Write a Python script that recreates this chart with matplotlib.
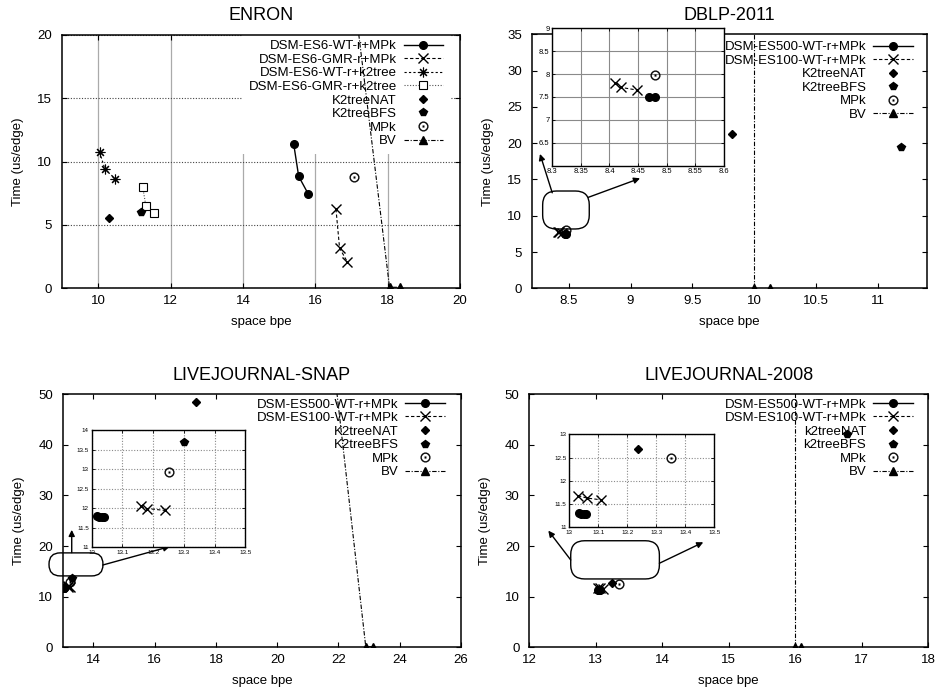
import matplotlib
matplotlib.use('Agg')
import matplotlib.pyplot as plt
from matplotlib.patches import FancyBboxPatch
from matplotlib.ticker import FormatStrFormatter

plt.rcParams['font.family'] = ['Liberation Sans', 'DejaVu Sans']
plt.rcParams['font.size'] = 9.5

# ---- ENRON ----
enron_wt_mpk_x = [15.40, 15.54, 15.80]
enron_wt_mpk_y = [11.43, 8.84, 7.47]
enron_gmr_mpk_x = [16.57, 16.67, 16.88]
enron_gmr_mpk_y = [6.26, 3.17, 2.11]
enron_wt_k2_x = [10.04, 10.19, 10.47]
enron_wt_k2_y = [10.75, 9.38, 8.66]
enron_gmr_k2_x = [11.23, 11.32, 11.53]
enron_gmr_k2_y = [8.00, 6.47, 5.94]
enron_nat_x, enron_nat_y = [10.29], [5.55]
enron_bfs_x, enron_bfs_y = [11.18], [5.99]
enron_mpk_x, enron_mpk_y = [17.06], [8.80]
enron_bv_x = [16.35, 18.05, 18.35]
enron_bv_y = [40.0, 0.08, 0.08]

# ---- DBLP-2011 ----
dblp_es500_x = [8.47, 8.48]
dblp_es500_y = [7.49, 7.49]
dblp_es100_x = [8.41, 8.42, 8.449]
dblp_es100_y = [7.80, 7.71, 7.65]
dblp_nat_x, dblp_nat_y = [9.82], [21.25]
dblp_bfs_x, dblp_bfs_y = [11.19], [19.5]
dblp_mpk_x, dblp_mpk_y = [8.48], [7.99]
dblp_bv_x = [10.0, 10.0, 10.13]
dblp_bv_y = [60.0, 0.05, 0.05]

# ---- LIVEJOURNAL-SNAP ----
snap_es500_x = [13.017, 13.025, 13.033, 13.041]
snap_es500_y = [11.79, 11.78, 11.78, 11.77]
snap_es100_x = [13.16, 13.18, 13.24]
snap_es100_y = [12.05, 11.99, 11.94]
snap_nat_x, snap_nat_y = [17.35], [48.4]
snap_bfs_x, snap_bfs_y = [13.30], [13.70]
snap_mpk_x, snap_mpk_y = [13.25], [12.92]
snap_bv_x = [21.39, 22.89, 23.14]
snap_bv_y = [80.0, 0.1, 0.1]

# ---- LIVEJOURNAL-2008 ----
lj_es500_x = [13.033, 13.042, 13.05, 13.058]
lj_es500_y = [11.30, 11.29, 11.29, 11.28]
lj_es100_x = [13.03, 13.06, 13.11]
lj_es100_y = [11.68, 11.63, 11.59]
lj_nat_x, lj_nat_y = [13.237], [12.68]
lj_bfs_x, lj_bfs_y = [16.78], [42.1]
lj_mpk_x, lj_mpk_y = [13.35], [12.48]
lj_bv_x = [16.0, 16.0, 16.09]
lj_bv_y = [80.0, 0.1, 0.1]

styles = {
    'solid_o': dict(color='k', ls='-', lw=1.0, marker='o', ms=5.5),
    'dash_x': dict(color='k', ls=(0, (3, 2)), lw=0.8, marker='x', ms=6.5, mew=1.0),
    'dash_ast': dict(color='k', ls=(0, (2, 2)), lw=0.8, marker=(8, 2, 0), ms=7, mew=0.8),
    'dot_sq': dict(color='#555555', ls=(0, (1, 1.5)), lw=0.8, marker='s', ms=5.5,
                   mfc='white', mec='k', mew=0.8),
    'diamond': dict(color='k', ls='none', marker='D', ms=3.8),
    'pent': dict(color='k', ls='none', marker='p', ms=6),
    'odot': dict(color='k', ls='none', marker='$\\odot$', ms=7, mew=0.2),
    'bv': dict(color='k', ls=(0, (4, 1.5, 1, 1.5)), lw=0.8, marker='^', ms=5.5),
}

enron_series = [
    ('DSM-ES6-WT-r+MPk', enron_wt_mpk_x, enron_wt_mpk_y, 'solid_o'),
    ('DSM-ES6-GMR-r+MPk', enron_gmr_mpk_x, enron_gmr_mpk_y, 'dash_x'),
    ('DSM-ES6-WT-r+k2tree', enron_wt_k2_x, enron_wt_k2_y, 'dash_ast'),
    ('DSM-ES6-GMR-r+k2tree', enron_gmr_k2_x, enron_gmr_k2_y, 'dot_sq'),
    ('K2treeNAT', enron_nat_x, enron_nat_y, 'diamond'),
    ('K2treeBFS', enron_bfs_x, enron_bfs_y, 'pent'),
    ('MPk', enron_mpk_x, enron_mpk_y, 'odot'),
    ('BV', enron_bv_x, enron_bv_y, 'bv'),
]
dblp_series = [
    ('DSM-ES500-WT-r+MPk', dblp_es500_x, dblp_es500_y, 'solid_o'),
    ('DSM-ES100-WT-r+MPk', dblp_es100_x, dblp_es100_y, 'dash_x'),
    ('K2treeNAT', dblp_nat_x, dblp_nat_y, 'diamond'),
    ('K2treeBFS', dblp_bfs_x, dblp_bfs_y, 'pent'),
    ('MPk', dblp_mpk_x, dblp_mpk_y, 'odot'),
    ('BV', dblp_bv_x, dblp_bv_y, 'bv'),
]
snap_series = [
    ('DSM-ES500-WT-r+MPk', snap_es500_x, snap_es500_y, 'solid_o'),
    ('DSM-ES100-WT-r+MPk', snap_es100_x, snap_es100_y, 'dash_x'),
    ('K2treeNAT', snap_nat_x, snap_nat_y, 'diamond'),
    ('K2treeBFS', snap_bfs_x, snap_bfs_y, 'pent'),
    ('MPk', snap_mpk_x, snap_mpk_y, 'odot'),
    ('BV', snap_bv_x, snap_bv_y, 'bv'),
]
lj_series = [
    ('DSM-ES500-WT-r+MPk', lj_es500_x, lj_es500_y, 'solid_o'),
    ('DSM-ES100-WT-r+MPk', lj_es100_x, lj_es100_y, 'dash_x'),
    ('k2treeNAT', lj_nat_x, lj_nat_y, 'diamond'),
    ('k2treeBFS', lj_bfs_x, lj_bfs_y, 'pent'),
    ('MPk', lj_mpk_x, lj_mpk_y, 'odot'),
    ('BV', lj_bv_x, lj_bv_y, 'bv'),
]

fig = plt.figure(figsize=(9.39, 6.93), dpi=100)


def draw(ax, series, labels=True):
    for label, xs, ys, key in series:
        ax.plot(xs, ys, label=label if labels else None, zorder=3, **styles[key])


def main_axes(rect, series, title, xlim, xticks, ylim, yticks, leg_anchor):
    ax = fig.add_axes(rect)
    draw(ax, series)
    ax.set_xlim(xlim)
    ax.set_ylim(ylim)
    ax.set_xticks(xticks)
    ax.set_yticks(yticks)
    ax.xaxis.set_major_formatter(FormatStrFormatter('%g'))
    ax.tick_params(direction='in', top=True, right=True, length=3.4, width=0.8)
    ax.tick_params(axis='x', pad=5)
    ax.tick_params(axis='y', pad=7)
    for s in ax.spines.values():
        s.set_linewidth(1.1)
    ax.set_title(title, fontsize=13, pad=10.5)
    ax.set_xlabel('space bpe')
    ax.set_ylabel('Time (us/edge)')
    ax.xaxis.set_label_coords(0.5, -0.109)
    ax.yaxis.set_label_coords(-0.095, 0.5)
    # markerfirst=False right-aligns the rows, like a gnuplot key
    leg = ax.legend(loc='upper right', bbox_to_anchor=leg_anchor, borderaxespad=0,
                    borderpad=0.5, fancybox=False, edgecolor='none', facecolor='white',
                    framealpha=1, markerfirst=False, handlelength=3.0,
                    handletextpad=0.5, labelspacing=0.1, numpoints=1, fontsize=9.5)
    leg.set_zorder(1.5)
    return ax


def inset_axes(rect, series, xlim, xticks, ylim, yticks, fs, grid_ls):
    ia = fig.add_axes(rect)
    ia.set_facecolor('white')
    draw(ia, series, labels=False)
    ia.set_xlim(xlim)
    ia.set_ylim(ylim)
    ia.set_xticks(xticks)
    ia.set_yticks(yticks)
    ia.xaxis.set_major_formatter(FormatStrFormatter('%g'))
    ia.yaxis.set_major_formatter(FormatStrFormatter('%g'))
    ia.tick_params(direction='in', top=True, right=True, length=2, width=0.6,
                   labelsize=fs, pad=2)
    ia.set_axisbelow(True)
    ia.grid(True, color='#8a8a8a', ls=grid_ls, lw=0.8)
    for s in ia.spines.values():
        s.set_linewidth(1.0)
    return ia


def zoom_marks(ax, box, radius, arrows):
    x0, y0, x1, y1 = box
    bb = ax.get_position()
    aspect = (bb.width * 939) / (bb.height * 693)
    patch = FancyBboxPatch((x0, y0), x1 - x0, y1 - y0,
                           boxstyle='round,pad=0,rounding_size=%g' % radius,
                           mutation_aspect=aspect, transform=ax.transAxes,
                           fc='none', ec='k', lw=1.0, clip_on=False, zorder=4)
    ax.add_patch(patch)
    for start, end in arrows:
        ax.annotate('', xy=end, xytext=start, xycoords='axes fraction',
                    textcoords='axes fraction', annotation_clip=False,
                    arrowprops=dict(arrowstyle='-|>', color='k', lw=1.0,
                                    mutation_scale=9, shrinkA=0, shrinkB=0))


# ENRON
ax1 = main_axes([0.066, 0.584, 0.424, 0.3655], enron_series, 'ENRON',
                (9, 20), range(10, 21, 2), (0, 20), range(0, 21, 5), (0.974, 1.006))
ax1.set_axisbelow(True)
ax1.xaxis.grid(True, color='#aaaaaa', ls='-', lw=0.9)
ax1.yaxis.grid(True, color='#444444', ls=(0, (1, 1.5)), lw=0.8)

# DBLP-2011
ax2 = main_axes([0.5662, 0.584, 0.4213, 0.3665], dblp_series, 'DBLP-2011',
                (8.2, 11.4), [8.5, 9, 9.5, 10, 10.5, 11], (0, 35), range(0, 36, 5),
                (0.980, 1.0))
zoom_marks(ax2, (0.0278, 0.2335, 0.1456, 0.383), 0.035,
           [((0.052, 0.376), (0.021, 0.529)), ((0.143, 0.358), (0.274, 0.433))])
inset_axes([0.5882, 0.7609, 0.1825, 0.1983], dblp_series, (8.3, 8.6),
           [8.3, 8.35, 8.4, 8.45, 8.5, 8.55, 8.6], (6, 9), [6.5, 7, 7.5, 8, 8.5, 9],
           5.5, '-')

# LIVEJOURNAL-SNAP
ax3 = main_axes([0.0668, 0.066, 0.4242, 0.3651], snap_series, 'LIVEJOURNAL-SNAP',
                (13, 26), range(14, 27, 2), (0, 50), range(0, 51, 10), (0.976, 1.01))
zoom_marks(ax3, (-0.0344, 0.282, 0.101, 0.373), 0.028,
           [((0.0226, 0.374), (0.0226, 0.464)), ((0.1004, 0.325), (0.269, 0.398))])
inset_axes([0.0977, 0.2106, 0.1636, 0.1684], snap_series, (13, 13.5),
           [13, 13.1, 13.2, 13.3, 13.4, 13.5], (11, 14),
           [11, 11.5, 12, 12.5, 13, 13.5, 14], 4.5, (0, (1, 1.5)))

# LIVEJOURNAL-2008
ax4 = main_axes([0.5637, 0.066, 0.4249, 0.3651], lj_series, 'LIVEJOURNAL-2008',
                (12, 18), range(12, 19), (0, 50), range(0, 51, 10), (0.977, 1.01))
zoom_marks(ax4, (0.1038, 0.270, 0.326, 0.421), 0.035,
           [((0.1038, 0.345), (0.0476, 0.461)), ((0.326, 0.332), (0.436, 0.415))])
inset_axes([0.6063, 0.2391, 0.1544, 0.1342], lj_series, (13, 13.5),
           [13, 13.1, 13.2, 13.3, 13.4, 13.5], (11, 13),
           [11, 11.5, 12, 12.5, 13], 4.5, (0, (1, 1.5)))

fig.savefig('out.png', dpi=100)
